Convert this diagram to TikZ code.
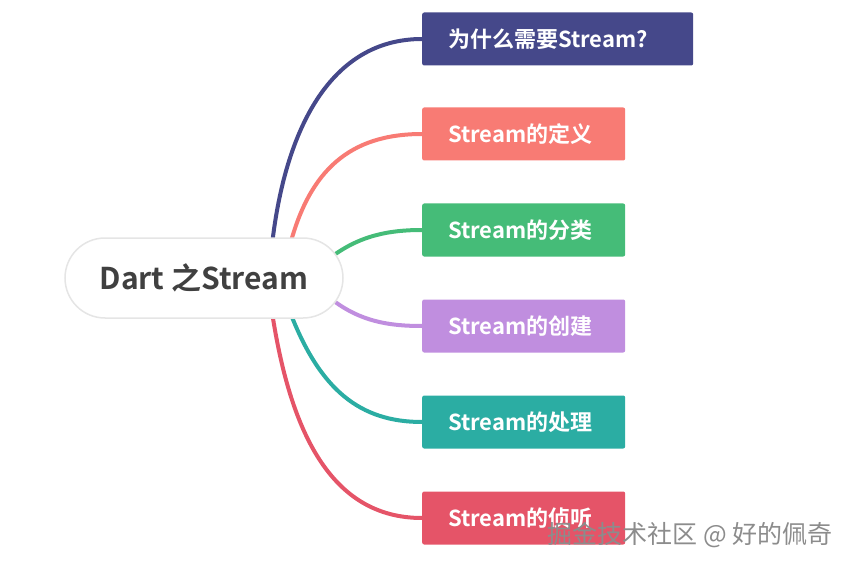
\documentclass[tikz,border=0pt]{standalone}
\usepackage{fontspec}
\setmainfont{Noto Sans CJK SC}[BoldFont={* Bold}]
\begin{document}
\begin{tikzpicture}[x=1pt,y=-1pt,
  br/.style={rectangle,rounded corners=2pt,minimum height=53pt,anchor=west,text=white,font=\bfseries\fontsize{22}{24}\selectfont,inner xsep=26pt,text width=151pt,align=left},
  cv/.style={line width=4pt}]
\useasboundingbox (0,0) rectangle (852,567);
\definecolor{c1}{HTML}{45488A}\definecolor{c2}{HTML}{F87B74}\definecolor{c3}{HTML}{45BC78}
\definecolor{c4}{HTML}{C08EDF}\definecolor{c5}{HTML}{2BADA3}\definecolor{c6}{HTML}{E55468}
\node[br,fill=c1,text width=219pt] (b1) at (422,39) {为什么需要Stream?};
\node[br,fill=c2] (b2) at (422,134) {Stream的定义};
\node[br,fill=c3] (b3) at (422,230) {Stream的分类};
\node[br,fill=c4] (b4) at (422,326) {Stream的创建};
\node[br,fill=c5] (b5) at (422,422) {Stream的处理};
\node[br,fill=c6] (b6) at (422,518) {Stream的侦听};
\coordinate (s1) at (272,245); \coordinate (s2) at (290,245);
\coordinate (s3) at (330,258); \coordinate (s4) at (330,298);
\coordinate (s5) at (290,312); \coordinate (s6) at (272,312);
\draw[cv,c1] (s1) .. controls (285,130) and (330,39) .. (b1.west);
\draw[cv,c2] (s2) .. controls (310,170) and (350,134) .. (b2.west);
\draw[cv,c3] (s3) .. controls (360,235) and (390,230) .. (b3.west);
\draw[cv,c4] (s4) .. controls (360,322) and (390,326) .. (b4.west);
\draw[cv,c5] (s5) .. controls (320,390) and (360,422) .. (b5.west);
\draw[cv,c6] (s6) .. controls (290,430) and (330,518) .. (b6.west);
\node[draw=black!10,line width=1.5pt,fill=white,rounded corners=40pt,minimum width=278pt,minimum height=80pt,
  text=black!75,font=\bfseries\fontsize{30}{34}\selectfont] (c) at (204,278) {Dart 之Stream};
\node[anchor=east,text=black!45,font=\fontsize{25}{28}\selectfont] (w) at (836,535) {掘金技术社区 @ 好的佩奇};
\end{tikzpicture}
\end{document}
